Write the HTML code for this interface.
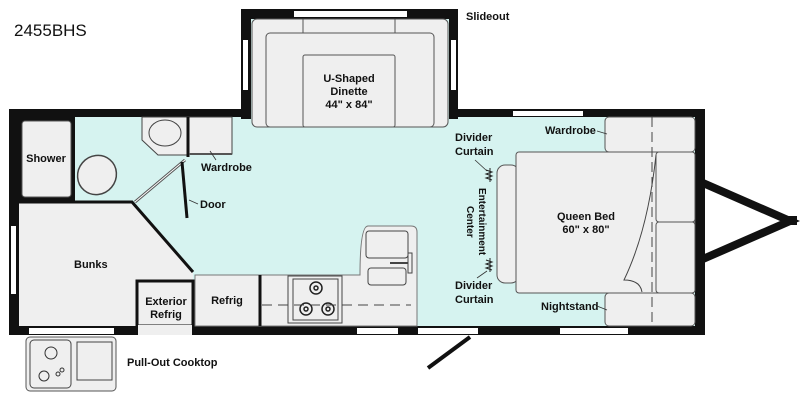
<!DOCTYPE html>
<html><head><style>
body{margin:0;background:#fff}
svg{display:block}
text{font-family:"Liberation Sans",sans-serif;font-size:11px;fill:#111;font-weight:bold}
</style></head><body>
<svg width="800" height="410" viewBox="0 0 800 410" xmlns="http://www.w3.org/2000/svg">
<text x="14" y="36" style="font-size:17px;font-weight:normal">2455BHS</text>
<text x="466" y="20">Slideout</text>
<!-- hitch -->
<path d="M703 183 L790 221 L703 259" fill="none" stroke="#111" stroke-width="8"/>
<rect x="785" y="216" width="12" height="9" fill="#111"/>
<!-- main body -->
<rect x="9" y="109" width="696" height="226" fill="#111"/>
<rect x="19" y="117" width="676" height="209" fill="#d6f3f0"/>
<!-- slideout -->
<rect x="241" y="9" width="217" height="110" fill="#111"/>
<rect x="251" y="19" width="198" height="102" fill="#d6f3f0"/>
<rect x="294" y="11" width="113" height="6" fill="#fff"/>
<rect x="243" y="40" width="5" height="50" fill="#fff"/>
<rect x="451" y="40" width="5" height="50" fill="#fff"/>
<g fill="#efefef" stroke="#555" stroke-width="1">
<rect x="252" y="19" width="196" height="108" rx="5"/>
<rect x="266" y="33" width="168" height="94" rx="4"/>
<rect x="303" y="55" width="92" height="72" rx="2"/>
<line x1="303" y1="19" x2="303" y2="33"/><line x1="395" y1="19" x2="395" y2="33"/>
</g>
<text x="349" y="82" text-anchor="middle">U-Shaped</text>
<text x="349" y="95" text-anchor="middle">Dinette</text>
<text x="349" y="108" text-anchor="middle">44" x 84"</text>
<!-- windows -->
<rect x="513" y="111" width="70" height="5" fill="#fff"/>
<rect x="11" y="226" width="5" height="68" fill="#fff"/>
<rect x="29" y="328" width="85" height="6" fill="#fff"/>
<rect x="357" y="328" width="41" height="6" fill="#fff"/>
<rect x="418" y="328" width="60" height="6" fill="#fff"/>
<rect x="560" y="328" width="68" height="6" fill="#fff"/>
<path d="M428 368 L470 337" stroke="#111" stroke-width="4"/>
<path d="M434 370 L474 340" stroke="#fff" stroke-width="1.5"/>
<!-- bathroom -->
<rect x="19" y="117" width="56" height="84" fill="#111"/>
<rect x="22" y="121" width="49" height="76" fill="#efefef" stroke="#555" rx="3"/>
<text x="46" y="162" text-anchor="middle">Shower</text>
<ellipse cx="97" cy="175" rx="19" ry="20" fill="#efefef" stroke="#444" stroke-width="1.5" transform="rotate(40 97 175)"/>
<path d="M142 117 L188 117 L188 155 L158 155 L142 140 Z" fill="#efefef" stroke="#444"/>
<ellipse cx="165" cy="133" rx="16" ry="13" fill="#efefef" stroke="#444"/>
<rect x="188" y="117" width="44" height="37" fill="#efefef" stroke="#444"/>
<line x1="188" y1="117" x2="188" y2="157" stroke="#111" stroke-width="3"/>
<line x1="189" y1="154" x2="232" y2="154" stroke="#555" stroke-width="2"/>
<text x="201" y="171">Wardrobe</text>
<line x1="210" y1="151" x2="216" y2="160" stroke="#333" stroke-width="0.8"/>
<path d="M135 202 L185 160" stroke="#555" stroke-width="3"/>
<path d="M135 202 L185 160" stroke="#fff" stroke-width="1"/>
<path d="M182 162 L187 218" stroke="#111" stroke-width="3"/>
<text x="200" y="208">Door</text>
<line x1="189" y1="200" x2="198" y2="204" stroke="#333" stroke-width="0.8"/>
<!-- bunks -->
<path d="M19 203 L132 203 L193 272 L193 326 L19 326 Z" fill="#efefef"/>
<path d="M19 202 L132 202 L193 272" fill="none" stroke="#111" stroke-width="3"/>
<text x="74" y="268">Bunks</text>
<rect x="137" y="281" width="56" height="45" fill="#efefef" stroke="#111" stroke-width="3"/>
<text x="166" y="305" text-anchor="middle">Exterior</text>
<text x="166" y="318" text-anchor="middle">Refrig</text>
<rect x="138" y="325" width="54" height="10" fill="#efefef"/>
<!-- kitchen -->
<path d="M195 275 L360 275 Q360 226 368 226 L411 226 Q417 226 417 232 L417 326 L195 326 Z" fill="#efefef" stroke="#777"/>
<rect x="366" y="231" width="42" height="27" rx="3" fill="#efefef" stroke="#444"/>
<rect x="368" y="268" width="38" height="17" rx="3" fill="#efefef" stroke="#444"/>
<line x1="390" y1="263" x2="410" y2="263" stroke="#444" stroke-width="2"/>
<rect x="408" y="253" width="4" height="20" fill="#efefef" stroke="#444"/>
<line x1="260" y1="275" x2="260" y2="326" stroke="#111" stroke-width="3"/>
<text x="227" y="304" text-anchor="middle">Refrig</text>
<rect x="288" y="276" width="54" height="47" fill="#efefef" stroke="#444"/>
<rect x="293" y="279" width="45" height="41" fill="#efefef" stroke="#444"/>
<g fill="none" stroke="#222" stroke-width="1.5">
<circle cx="316" cy="288" r="6"/><circle cx="316" cy="288" r="2"/>
<circle cx="306" cy="309" r="6"/><circle cx="306" cy="309" r="2"/>
<circle cx="328" cy="309" r="6"/><circle cx="328" cy="309" r="2"/>
</g>
<line x1="262" y1="305" x2="411" y2="305" stroke="#444" stroke-dasharray="10,6"/>
<!-- pull-out cooktop -->
<rect x="26" y="337" width="90" height="54" rx="4" fill="#efefef" stroke="#555"/>
<rect x="30" y="340" width="41" height="48" rx="4" fill="#efefef" stroke="#444"/>
<rect x="77" y="342" width="35" height="38" fill="#efefef" stroke="#444"/>
<circle cx="51" cy="353" r="6" fill="none" stroke="#333"/>
<circle cx="44" cy="376" r="5" fill="none" stroke="#333"/>
<circle cx="58" cy="374" r="2" fill="none" stroke="#333"/>
<circle cx="62" cy="370" r="2" fill="none" stroke="#333"/>
<text x="127" y="366">Pull-Out Cooktop</text>
<!-- bedroom -->
<rect x="605" y="117" width="90" height="35" rx="4" fill="#efefef" stroke="#555"/>
<rect x="605" y="293" width="90" height="33" rx="4" fill="#efefef" stroke="#555"/>
<rect x="497" y="165" width="22" height="118" rx="8" fill="#efefef" stroke="#555"/>
<rect x="516" y="152" width="179" height="141" rx="3" fill="#efefef" stroke="#555"/>
<rect x="656" y="152" width="39" height="70" rx="3" fill="#efefef" stroke="#555"/>
<rect x="656" y="222" width="39" height="71" rx="3" fill="#efefef" stroke="#555"/>
<path d="M656 155 Q648 230 624 280 Q640 280 642 292" fill="none" stroke="#444"/>
<line x1="652" y1="117" x2="652" y2="326" stroke="#444" stroke-dasharray="10,5"/>
<text x="586" y="220" text-anchor="middle">Queen Bed</text>
<text x="586" y="233" text-anchor="middle">60" x 80"</text>
<text x="545" y="134">Wardrobe</text>
<line x1="597" y1="131" x2="607" y2="134" stroke="#333" stroke-width="0.8"/>
<text x="541" y="310">Nightstand</text>
<line x1="597" y1="306" x2="607" y2="310" stroke="#333" stroke-width="0.8"/>
<text x="455" y="141">Divider</text>
<text x="455" y="155">Curtain</text>
<text x="455" y="289">Divider</text>
<text x="455" y="303">Curtain</text>
<line x1="475" y1="160" x2="487" y2="171" stroke="#333" stroke-width="0.8"/>
<line x1="477" y1="278" x2="487" y2="271" stroke="#333" stroke-width="0.8"/>
<path d="M490 168 l0 14 M486 170 l6 2 l-6 2 l6 2 l-6 2 l6 2" fill="none" stroke="#222"/>
<path d="M490 258 l0 14 M486 260 l6 2 l-6 2 l6 2 l-6 2 l6 2" fill="none" stroke="#222"/>
<text transform="translate(479 188) rotate(90)" style="font-size:10px">Entertainment</text>
<text transform="translate(467 206) rotate(90)" style="font-size:10px">Center</text>
</svg>
</body></html>
